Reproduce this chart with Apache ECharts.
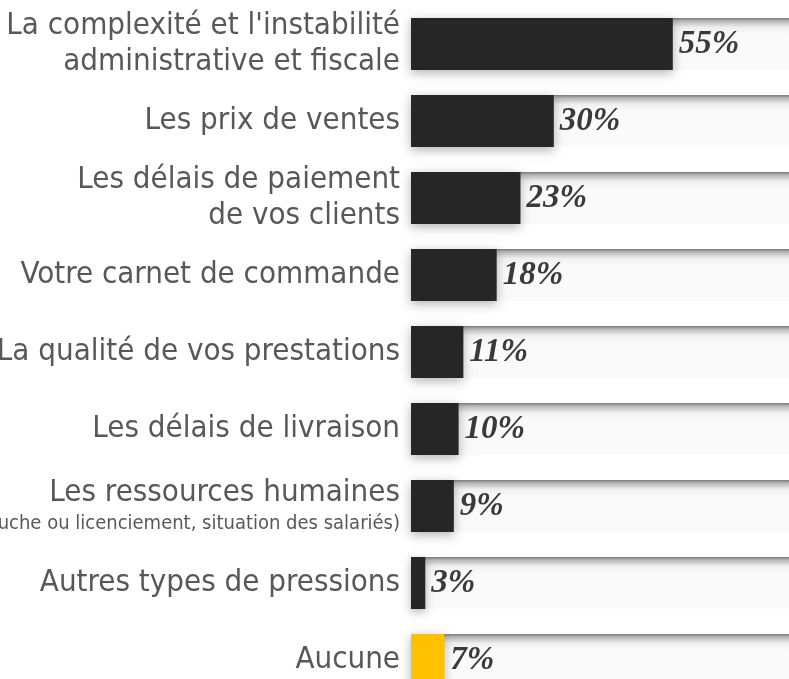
<!DOCTYPE html>
<html>
<head>
<meta charset="utf-8">
<script src="https://cdn.jsdelivr.net/npm/echarts@6/dist/echarts.min.js"></script>
<style>
  html, body { margin: 0; padding: 0; background: #fff; }
  #chart { width: 789px; height: 679px; }
</style>
</head>
<body>
<div id="chart"></div>
<script>
// libellés des freins
var categories = [
  "La complexité et l'instabilité\nadministrative et fiscale",
  'Les prix de ventes',
  'Les délais de paiement\nde vos clients',
  'Votre carnet de commande',
  'La qualité de vos prestations',
  'Les délais de livraison',
  'Les ressources humaines\n{small|(embauche ou licenciement, situation des salariés)}',
  'Autres types de pressions',
  'Aucune'
]
// pourcentages
var values = [55, 30, 23, 18, 11, 10, 9, 3, 7]
var highlightName = 'Aucune'

var chart = echarts.init(document.getElementById('chart'))

var labelFont = '"DejaVu Sans Condensed", "DejaVu Sans", sans-serif'

var option = {
  animation: false,
  grid: {
    left: 411,
    top: 5.5,
    width: 476,
    height: 693,
    outerBoundsMode: 'none'
  },
  xAxis: {
    type: 'value',
    min: 0,
    max: 100,
    show: false
  },
  yAxis: {
    type: 'category',
    inverse: true,
    data: categories,
    axisLine: { show: false },
    axisTick: { show: false },
    axisLabel: {
      margin: 11,
      color: '#585858',
      fontFamily: labelFont,
      fontSize: 31,
      lineHeight: 36,
      align: 'right',
      rich: {
        small: {
          fontFamily: labelFont,
          fontSize: 20,
          color: '#585858',
          lineHeight: 26
        }
      }
    }
  },
  series: [
    {
      type: 'bar',
      data: values,
      barWidth: 52,
      showBackground: true,
      backgroundStyle: {
        color: new echarts.graphic.LinearGradient(0, 0, 0, 1, [
          { offset: 0, color: '#7a7a7a' },
          { offset: 0.06, color: '#b8b8b8' },
          { offset: 0.18, color: '#efefef' },
          { offset: 0.32, color: '#fafafa' },
          { offset: 1, color: '#fafafa' }
        ])
      },
      itemStyle: {
        color: function (p) {
          return p.name === highlightName ? '#ffc000' : '#262626'
        },
        shadowColor: 'rgba(0,0,0,0.3)',
        shadowBlur: 10,
        shadowOffsetY: 3
      },
      label: {
        show: true,
        position: 'right',
        distance: 6,
        formatter: '{c}%',
        color: '#3a3a3a',
        fontFamily: '"Liberation Serif", "DejaVu Serif", serif',
        fontStyle: 'italic',
        fontWeight: 'bold',
        fontSize: 33
      }
    }
  ]
}

chart.setOption(option)
</script>
</body>
</html>
